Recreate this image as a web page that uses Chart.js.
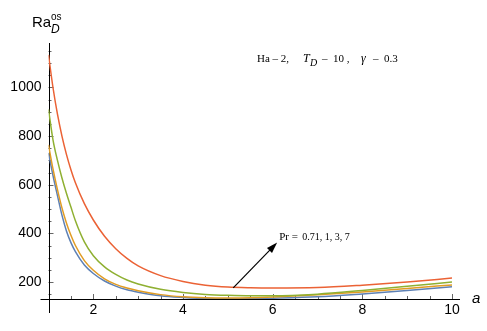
<!DOCTYPE html>
<html>
<head>
<meta charset="utf-8">
<script src="https://cdn.jsdelivr.net/npm/chart.js@4.4.1/dist/chart.umd.min.js"></script>
<style>
  html, body { margin: 0; padding: 0; background: #fff; }
  #wrap { width: 487px; height: 331px; position: relative; }
</style>
</head>
<body>
<div id="wrap"><canvas id="grafica"></canvas></div>
<script>
// valores de a (eje x)
const aVals = [1, 1.1, 1.2, 1.3, 1.4, 1.5, 1.6, 1.8, 2, 2.25, 2.5, 2.75, 3, 3.5, 4, 4.5, 5, 5.5, 6, 7, 8, 9, 10];

// Ra_D^os para cada Pr
const raPr071 = [731, 638, 555, 475, 410, 362, 325, 270, 235, 204, 183, 168, 158, 143, 136, 132, 131, 131, 133, 139, 151, 165, 180];
const raPr1   = [764, 665, 580, 505, 443, 392, 350, 288, 248, 213, 190, 175, 164, 148, 139, 135, 134, 135, 138, 147, 159, 173, 188];
const raPr3   = [910, 785, 700, 628, 565, 508, 452, 365, 308, 262, 231, 208, 192, 170, 157, 149, 145, 143, 143, 150, 165, 182, 200];
const raPr7   = [1134, 1000, 890, 800, 725, 662, 608, 522, 455, 388, 337, 297, 266, 226, 202, 187, 179, 176, 175, 177, 187, 200, 216];

const prValues = ['0.71', '1', '3', '7'];
const colores = ['#5E81B5', '#E19C24', '#8FB032', '#EB6235'];

const xTicks = [2, 4, 6, 8, 10];
const yTicks = [200, 400, 600, 800, 1000];

// flecha (coordenadas en datos)
const flechaDesde = [5.12, 176];
const flechaHasta = [6.1, 362];

function serie(ys) {
    return aVals.map((a, i) => ({x: a, y: ys[i]}));
}

const series = [raPr071, raPr1, raPr3, raPr7];

// Plugin para ejes estilo Mathematica, titulos y anotaciones
const ejesPlugin = {
    id: 'ejes',
    beforeDatasetsDraw(chart) {
        const ctx = chart.ctx;
        const xs = chart.scales.x, ys = chart.scales.y;
        const x0 = xs.getPixelForValue(1);
        const y0 = ys.getPixelForValue(ys.min);
        ctx.save();
        // marcas menores / mayores
        ctx.strokeStyle = '#666';
        ctx.lineWidth = 1;
        ctx.beginPath();
        for (let v = 1.5; v <= 10.001; v += 0.5) {
            const px = Math.round(xs.getPixelForValue(v)) + 0.5;
            const len = (Math.abs(v % 2) < 0.01) ? 5 : 3;
            ctx.moveTo(px, y0);
            ctx.lineTo(px, y0 - len);
        }
        for (let v = 150; v <= 1150; v += 50) {
            const py = Math.round(ys.getPixelForValue(v)) + 0.5;
            const len = (v % 200 === 0) ? 5 : 3;
            ctx.moveTo(x0, py);
            ctx.lineTo(x0 + len, py);
        }
        ctx.stroke();
        // lineas de ejes
        ctx.strokeStyle = '#000';
        ctx.beginPath();
        ctx.moveTo(x0 - 8, Math.round(y0) + 0.5);
        ctx.lineTo(xs.right + 8, Math.round(y0) + 0.5);
        ctx.moveTo(Math.round(x0) + 0.5, ys.top);
        ctx.lineTo(Math.round(x0) + 0.5, y0 + 14);
        ctx.stroke();
        ctx.restore();
    },
    afterDraw(chart) {
        const ctx = chart.ctx;
        const xs = chart.scales.x, ys = chart.scales.y;
        ctx.save();
        ctx.fillStyle = '#000';
        ctx.textBaseline = 'alphabetic';
        // titulo eje y: Ra_D^os
        ctx.font = '15px "Liberation Sans", Arial, sans-serif';
        ctx.fillText('Ra', 32, 27);
        ctx.font = '10px "Liberation Sans", Arial, sans-serif';
        ctx.fillText('os', 51, 20);
        ctx.font = 'italic 12px "Liberation Sans", Arial, sans-serif';
        ctx.fillText('D', 51, 33);
        // titulo eje x
        ctx.font = 'italic 15px "Liberation Sans", Arial, sans-serif';
        ctx.fillText('a', 472, 303);

        // texto de parametros
        ctx.font = '11px "Liberation Serif", "Times New Roman", serif';
        ctx.fillText('Ha \u2013 2,', 257, 62);
        ctx.font = 'italic 12px "Liberation Serif", "Times New Roman", serif';
        ctx.fillText('T', 303, 62);
        ctx.font = 'italic 10px "Liberation Serif", "Times New Roman", serif';
        ctx.fillText('D', 310, 66);
        ctx.font = '11px "Liberation Serif", "Times New Roman", serif';
        ctx.fillText('\u2013  10 ,', 322, 62);
        ctx.font = 'italic 12px "Liberation Serif", "Times New Roman", serif';
        ctx.fillText('\u03B3', 361, 62);
        ctx.font = '11px "Liberation Serif", "Times New Roman", serif';
        ctx.fillText('\u2013  0.3', 373, 62);

        // flecha
        const x1 = xs.getPixelForValue(flechaDesde[0]), y1 = ys.getPixelForValue(flechaDesde[1]);
        const x2 = xs.getPixelForValue(flechaHasta[0]), y2 = ys.getPixelForValue(flechaHasta[1]);
        const ang = Math.atan2(y2 - y1, x2 - x1);
        ctx.strokeStyle = '#000';
        ctx.lineWidth = 1.2;
        ctx.beginPath();
        ctx.moveTo(x1, y1);
        ctx.lineTo(x2 - 6 * Math.cos(ang), y2 - 6 * Math.sin(ang));
        ctx.stroke();
        ctx.beginPath();
        ctx.moveTo(x2, y2);
        ctx.lineTo(x2 - 11 * Math.cos(ang) + 3.5 * Math.sin(ang), y2 - 11 * Math.sin(ang) - 3.5 * Math.cos(ang));
        ctx.lineTo(x2 - 11 * Math.cos(ang) - 3.5 * Math.sin(ang), y2 - 11 * Math.sin(ang) + 3.5 * Math.cos(ang));
        ctx.closePath();
        ctx.fill();

        // etiqueta Pr
        ctx.font = '11px "Liberation Serif", "Times New Roman", serif';
        ctx.fillText('Pr = ', x2 + 2, y2 - 3);
        ctx.font = '10px "Liberation Serif", "Times New Roman", serif';
        ctx.fillText(prValues.join(', '), x2 + 25, y2 - 3);
        ctx.restore();
    }
};

const ctx = document.getElementById('grafica').getContext('2d');
new Chart(ctx, {
    type: 'line',
    data: {
        datasets: series.map((s, i) => ({
            label: 'Pr = ' + prValues[i],
            data: serie(s),
            borderColor: colores[i],
            backgroundColor: colores[i],
            borderWidth: 1.5,
            pointRadius: 0,
            cubicInterpolationMode: 'monotone',
            fill: false,
            order: 4 - i
        }))
    },
    options: {
        responsive: true,
        maintainAspectRatio: false,
        animation: false,
        events: [],
        layout: { padding: { top: 43, right: 35, left: 0, bottom: 0 } },
        plugins: { legend: { display: false }, tooltip: { enabled: false } },
        scales: {
            x: {
                type: 'linear',
                min: 1,
                max: 10,
                grid: { display: false, drawTicks: false },
                border: { display: false },
                afterBuildTicks: s => { s.ticks = xTicks.map(v => ({value: v})); },
                afterFit: s => { s.height = 32; },
                ticks: {
                    padding: 3,
                    color: '#000',
                    font: { family: '"Liberation Sans", Arial, sans-serif', size: 14 },
                    maxRotation: 0,
                    callback: v => String(v)
                }
            },
            y: {
                min: 130,
                max: 1183,
                grid: { display: false, drawTicks: false },
                border: { display: false },
                afterBuildTicks: s => { s.ticks = yTicks.map(v => ({value: v})); },
                afterFit: s => { s.width = 48.5; },
                ticks: {
                    padding: 7,
                    color: '#000',
                    font: { family: '"Liberation Sans", Arial, sans-serif', size: 14 },
                    callback: v => String(v)
                }
            }
        }
    },
    plugins: [ejesPlugin]
});
</script>
</body>
</html>
